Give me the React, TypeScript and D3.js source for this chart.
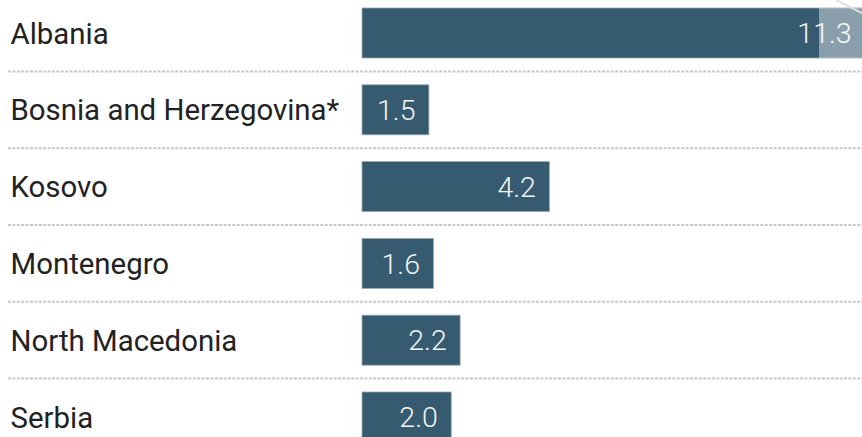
import React from "react";
import * as d3 from "d3";

const countries = ["Albania", "Bosnia and Herzegovina*", "Kosovo", "Montenegro", "North Macedonia", "Serbia"];
const values = [11.3, 1.5, 4.2, 1.6, 2.2, 2.0];

const W = 862;
const H = 437;

export default function App() {
  const x = d3.scaleLinear().domain([0, 1]).range([362, 362 + 44.6]);
  const step = 76.8;
  const padIn = 26.8 / step;
  const y = d3
    .scaleBand<string>()
    .domain(countries)
    .range([8 - 13.4, 8 - 13.4 + step * countries.length])
    .paddingInner(padIn)
    .paddingOuter(padIn / 2);
  const bw = y.bandwidth();
  const fmt = d3.format(".1f");

  return (
    <svg
      width={W}
      height={H}
      style={{ position: "absolute", left: 0, top: 0, display: "block" }}
      fontFamily="Roboto, 'Noto Sans', sans-serif"
    >
      <rect width={W} height={H} fill="#ffffff" />
      {countries.slice(0, -1).map((c) => {
        const yy = (y(c) as number) + bw + 13.4;
        return (
          <line
            key={"sep" + c}
            x1={8}
            x2={W}
            y1={yy}
            y2={yy}
            stroke="#c8c8c8"
            strokeWidth={2}
            strokeDasharray="3,1.4"
          />
        );
      })}
      {countries.map((c, i) => {
        const y0 = y(c) as number;
        const x1 = x(values[i]);
        return (
          <g key={c}>
            <text x={10.5} y={y0 + bw / 2} dy="0.36em" fontSize={29.4} fill="#222">
              {c}
            </text>
            <rect
              x={x(0)}
              y={y0}
              width={x1 - x(0)}
              height={bw}
              fill="#365b71"
              stroke="#9aa8b0"
              strokeWidth={0.8}
            />
            <text
              x={Math.min(x1, W + 3) - 13.4}
              y={y0 + bw / 2}
              dy="0.36em"
              fontSize={28.5}
              fontWeight={300}
              textAnchor="end"
              fill="#f2f4f5"
            >
              {fmt(values[i])}
            </text>
          </g>
        );
      })}
      <rect x={819} y={(y(countries[0]) as number)} width={W - 819} height={bw} fill="#ffffff" opacity={0.42} />
      <line x1={836} y1={0} x2={862} y2={13} stroke="#e0e0e0" strokeWidth={2} />
    </svg>
  );
}
